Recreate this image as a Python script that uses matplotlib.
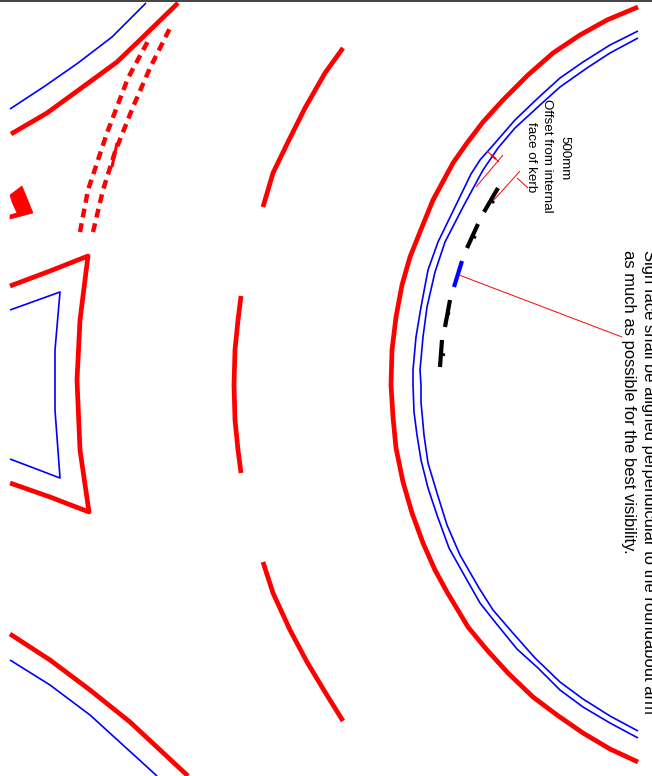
import matplotlib
matplotlib.use('Agg')
import matplotlib.pyplot as plt

# kerb lines, (x, y) in picture pixels
outer_kerb = [(638,7),(607,20),(580,35),(553,53),(528,75),(503,100),(483,122),(467,143),(453,163),(433,200),(422,227),
              (410,257),(402,285),(396,317),(392,350),(391,385),(393,417),(396,448),(403,482),(412,513),(423,543),
              (435,570),(447,592),(468,627),(487,650),(508,673),(533,697),(557,715),(583,733),(610,749),(638,762)]
blue_outer = [(638,31),(610,45),(583,62),(560,78),(538,98),(515,120),(495,143),(480,160),(471,174),(455,207),(438,242),
              (428,270),(421,307),(416,337),(413,370),(413,385),(414,412),(417,435),(421,460),(428,488),(437,515),
              (449,548),(463,573),(480,603),(495,622),(517,649),(538,668),(560,690),(583,707),(610,723),(638,738)]
blue_inner = [(638,38),(610,53),(587,68),(560,87),(540,105),(515,128),(498,148),(483,170),(463,207),(445,242),
              (435,272),(427,307),(423,337),(420,370),(421,385),(421,402),(424,435),(428,463),(437,493),(447,525),
              (460,555),(479,588),(493,610),(512,632),(535,658),(560,682),(583,699),(610,716),(638,731)]
middle_top = [(343,48),(325,73),(305,108),(288,142),(273,173),(263,207)]
middle_mid = [(241,296),(238,320),(235,350),(234,385),(235,420),(238,450),(241,473)]
middle_bot = [(263,562),(273,593),(290,630),(307,662),(325,692),(343,721)]
top_left_red = [(11,134),(47,113),(80,89),(117,62),(143,37),(178,3)]
top_left_blue = [(10,109),(45,86),(78,63),(112,37),(146,3)]
bot_left_red = [(10,634),(50,660),(90,690),(130,722),(188,776)]
bot_left_blue = [(10,660),(50,685),(90,715),(157,776)]
island_red = [(10,286),(50,271),(88,256),(80,320),(77,380),(80,450),(89,512),(50,497),(10,483)]
island_blue = [(10,310),(60,292),(55,350),(55,410),(60,478),(10,459)]
dash_a = [(80,232),(88,190),(107,133),(128,78),(148,41)]
dash_b = [(93,232),(103,190),(115,152),(133,107),(150,68),(170,28)]
dash_extra = [(117,143),(112,167)]
arrow_shape = [(10,195),(22,186),(33,213),(10,219),(10,215),(17,213),(12,202)]

# sign positions along the circle
black_signs = [[(498,188),(484,212)],[(478,224),(467,248)],[(450,300),(445,327)],[(442,340),(440,367)]]
black_ticks = [[(491,200),(494,203)],[(473,236),(476,238)],[(447,313),(450,314)],[(441,354),(445,355)]]
blue_sign = [(462,261),(454,287)]

# leaders and dimension lines
leader_sign = [(459,275),(622,337)]
leader_offset = [(493,201),(520,171)]
leader_kink = [(517,178),(528,188)]
dim_line = [(476,187),(503,155)]
dim_tick = [(487,151),(499,162)]
dim_arrow = [(491,155),(496,159)]

big_text_1 = 'Sign face shall be aligned perpendicular to the roundabout arm'
big_text_2 = 'as much as possible for the best visibility.'

red = '#ff0000'
blue = '#0000ff'
plt.rcParams['font.family'] = ['Liberation Sans', 'DejaVu Sans']

fig = plt.figure(figsize=(6.52, 7.76), dpi=100)
ax = fig.add_axes([0, 0, 1, 1])
ax.set_xlim(0, 652)
ax.set_ylim(776, 0)
ax.axis('off')


def draw(pts, color, lw, **kw):
    xs = [p[0] for p in pts]
    ys = [p[1] for p in pts]
    ax.plot(xs, ys, color=color, lw=lw, solid_joinstyle='round', solid_capstyle='butt', **kw)


for line in [outer_kerb, middle_top, middle_mid, middle_bot, top_left_red, bot_left_red, island_red]:
    draw(line, red, 3.4)
for line in [blue_outer, blue_inner, top_left_blue, bot_left_blue, island_blue]:
    draw(line, blue, 1.2)

for line in [dash_a, dash_b]:
    draw(line, red, 3.2, dashes=(2.0, 1.35), dash_capstyle='butt')
draw(dash_extra, red, 2.2)
ax.fill([p[0] for p in arrow_shape], [p[1] for p in arrow_shape], color=red, lw=0.5)

for line in black_signs:
    draw(line, 'black', 3.0)
for line in black_ticks:
    draw(line, 'black', 2.0)
draw(blue_sign, blue, 3.0)

for line in [leader_sign, leader_offset, leader_kink, dim_line, dim_tick]:
    draw(line, red, 0.7)
draw(dim_arrow, red, 1.5)

# frame line along the top
ax.plot([0, 652], [1, 1], color='#333333', lw=1.3, clip_on=False)

ax.text(641, 250, big_text_1, rotation=270, ha='left', va='top', fontsize=11.9, color='black')
ax.text(621, 250, big_text_2, rotation=270, ha='left', va='top', fontsize=11.9, color='black')
ax.text(564, 158, '500mm', rotation=270, ha='center', va='center', fontsize=9.6, color='black')
ax.text(547, 156, 'Offset from internal', rotation=270, ha='center', va='center', fontsize=9.6, color='black')
ax.text(531, 157, 'face of kerb', rotation=270, ha='center', va='center', fontsize=9.6, color='black')

fig.savefig('out.png', dpi=100)
